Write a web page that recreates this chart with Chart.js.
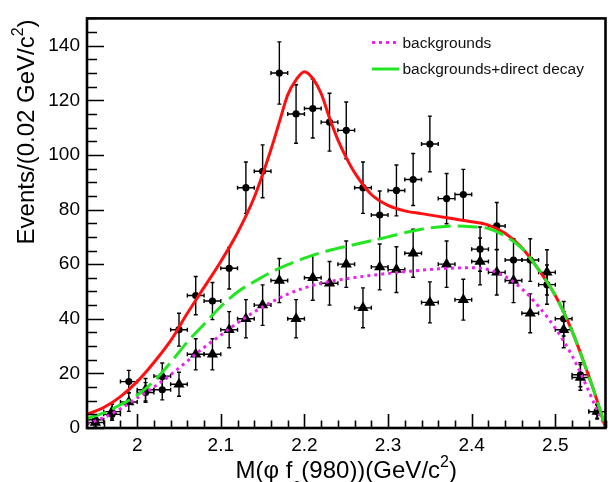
<!DOCTYPE html>
<html><head><meta charset="utf-8">
<script src="https://cdn.jsdelivr.net/npm/chart.js@4.4.1/dist/chart.umd.min.js"></script>
<style>html,body{margin:0;padding:0;background:#fff;}canvas{display:block;}</style>
</head><body>
<canvas id="c" width="612" height="482"></canvas>
<script>
// ---------- data ----------
const binCenters = [1.95,1.97,1.99,2.01,2.03,2.05,2.07,2.09,2.11,2.13,2.15,2.17,2.19,2.21,2.23,2.25,2.27,2.29,2.31,2.33,2.35,2.37,2.39,2.41,2.43,2.45,2.47,2.49,2.51,2.53,2.55];
const dataCounts = [3,5,17,13,14,36,48.5,46.5,58.5,88,94,130,115,117,112,109,88,78,87,91,104,84,85.5,65.5,74,61.5,61.5,52.5,40,19.5,6];
const dataErrors = [1.7,2.2,4.1,3.6,3.7,6,7,6.8,7.6,9.4,9.7,11.4,10.7,10.8,10.6,10.4,9.4,8.8,9.3,9.5,10.2,9.2,9.2,8.1,8.6,7.8,7.8,7.2,6.3,4.4,2.4];
const bkgCounts = [2,6,9.5,14,19,16,27,27,36,40,45,54,40,55,53,60,44,59,58,64,46,60,47,61,57,54,42,57,36,18.5,6];
const bkgErrors = [1.6,2.7,3.4,4.1,4.8,4.4,5.7,5.7,6.6,7,7.4,8.1,7,8.2,8,8.5,7.3,8.4,8.4,8.8,7.5,8.5,7.5,8.6,8.3,8.1,7.1,8.3,6.6,4.7,2.7];
const binHalfWidth = 0.01;

const fitX = [1.94,1.96,1.98,2.00,2.02,2.04,2.06,2.08,2.10,2.12,2.14,2.16,2.17,2.18,2.19,2.20,2.21,2.22,2.23,2.24,2.25,2.26,2.28,2.30,2.32,2.34,2.36,2.38,2.40,2.42,2.44,2.46,2.48,2.50,2.52,2.54,2.55,2.56];
const fitTotal = [5,7.5,11.5,17,24,32,42,51.5,61,71.5,84.5,102,112,122,127.5,130.5,128,122.5,113.5,105.5,99,93.5,85.5,81.5,79.5,78.5,77.5,76.5,75.5,74.3,71.3,66,58,48.5,35.5,19,10,0];

const curveX = [1.94,1.96,1.98,2.00,2.02,2.04,2.06,2.08,2.10,2.12,2.14,2.16,2.18,2.20,2.22,2.24,2.26,2.28,2.30,2.32,2.34,2.36,2.38,2.40,2.42,2.44,2.46,2.48,2.50,2.52,2.54,2.55,2.56];
const curveBkgDirect = [3.5,5.5,8.5,12,17.2,24,31.5,38,44.5,49.8,53.6,57,59.8,62.2,64.2,65.8,67.2,68.6,70,71.5,72.8,73.6,74,73.7,73,70.3,65.8,58,48.5,35.5,19,10,0];
const curveBkg = [1.5,3.8,7,11,15,19.5,24.5,29.5,34,38.5,42.5,46,49,51.3,53,54.2,55.1,55.9,56.6,57.2,57.8,58.3,58.6,58.7,58,55.5,51,44.5,36.5,26.5,13.5,6.5,0.5];

const xTickValues = [2.0,2.1,2.2,2.3,2.4,2.5];
const xTickLabels = ['2','2.1','2.2','2.3','2.4','2.5'];
const yTickValues = [0,20,40,60,80,100,120,140];
const yTickLabels = ['0','20','40','60','80','100','120','140'];
const legendLabels = ['backgrounds','backgrounds+direct decay'];

// ---------- styling ----------
const FONT = '"Liberation Sans", Arial, Helvetica, sans-serif';
const RED = '#ff1010', GREEN = '#22e622', MAGENTA = '#f020f0';

const pts = (xs, ys) => xs.map((x, i) => ({x, y: ys[i]}));

function drawRich(ctx, parts, x, y, align) {
  let w = 0;
  parts.forEach(p => { ctx.font = p.size + 'px ' + FONT; p.w = ctx.measureText(p.t).width; w += p.w; });
  let cx = align === 'center' ? x - w / 2 : (align === 'right' ? x - w : x);
  ctx.textAlign = 'left';
  ctx.textBaseline = 'alphabetic';
  parts.forEach(p => { ctx.font = p.size + 'px ' + FONT; ctx.fillText(p.t, cx, y + (p.dy || 0)); cx += p.w; });
}

const rootStyle = {
  id: 'rootStyle',
  beforeDatasetsDraw(chart) {
    const ctx = chart.ctx, xs = chart.scales.x, ys = chart.scales.y, a = chart.chartArea;
    ctx.save();
    ctx.beginPath(); ctx.rect(a.left, a.top, a.right - a.left, a.bottom - a.top); ctx.clip();
    ctx.strokeStyle = '#000'; ctx.lineWidth = 1.4;
    chart.data.datasets.forEach(ds => {
      if (!ds.errorBars) return;
      ds.data.forEach((p, i) => {
        const e = ds.errorBars[i];
        const px = xs.getPixelForValue(p.x), py = ys.getPixelForValue(p.y);
        const y1 = ys.getPixelForValue(p.y + e), y2 = ys.getPixelForValue(p.y - e);
        const x1 = xs.getPixelForValue(p.x - binHalfWidth), x2 = xs.getPixelForValue(p.x + binHalfWidth);
        ctx.beginPath();
        ctx.moveTo(px, y1); ctx.lineTo(px, y2);
        ctx.moveTo(px - 2, y1); ctx.lineTo(px + 2, y1);
        ctx.moveTo(px - 2, y2); ctx.lineTo(px + 2, y2);
        ctx.moveTo(x1, py); ctx.lineTo(x2, py);
        ctx.moveTo(x1, py - 2); ctx.lineTo(x1, py + 2);
        ctx.moveTo(x2, py - 2); ctx.lineTo(x2, py + 2);
        ctx.stroke();
      });
    });
    ctx.restore();
  },
  afterDraw(chart) {
    const ctx = chart.ctx, xs = chart.scales.x, ys = chart.scales.y, a = chart.chartArea;
    ctx.save();
    ctx.strokeStyle = '#000';
    // ticks (inside the frame)
    ctx.lineWidth = 1.6;
    ctx.beginPath();
    for (let v = 0; v <= 150.001; v += 5) {
      const py = Math.round(ys.getPixelForValue(v)) + 0.5;
      const major = Math.abs(v % 20) < 1e-6;
      ctx.moveTo(a.left, py); ctx.lineTo(a.left + (major ? 17 : 10), py);
    }
    for (let k = 0; k <= 31; k++) {
      const v = 1.94 + k * 0.02;
      const px = Math.round(xs.getPixelForValue(v)) + 0.5;
      const major = xTickValues.some(t => Math.abs(t - v) < 1e-6);
      ctx.moveTo(px, a.bottom); ctx.lineTo(px, a.bottom - (major ? 14 : 7.5));
    }
    ctx.stroke();
    // frame
    ctx.lineWidth = 2.6;
    ctx.strokeRect(a.left, a.top, a.right - a.left, a.bottom - a.top);

    // axis titles
    ctx.fillStyle = '#000';
    drawRich(ctx, [
      {t: 'M(\u03C6 f', size: 24},
      {t: '0', size: 16, dy: 15},
      {t: '(980))(GeV/c', size: 24},
      {t: '2', size: 16, dy: -11},
      {t: ')', size: 24}
    ], (a.left + a.right) / 2, 478, 'center');

    ctx.save();
    ctx.translate(33.5, a.top + 1);
    ctx.rotate(-Math.PI / 2);
    drawRich(ctx, [
      {t: 'Events/(0.02 GeV/c', size: 24},
      {t: '2', size: 16, dy: -11},
      {t: ')', size: 24}
    ], 0, 0, 'right');
    ctx.restore();

    // legend
    ctx.lineWidth = 3;
    ctx.strokeStyle = MAGENTA;
    ctx.setLineDash([3, 4]);
    ctx.beginPath(); ctx.moveTo(372, 42.5); ctx.lineTo(399, 42.5); ctx.stroke();
    ctx.setLineDash([]);
    ctx.strokeStyle = GREEN;
    ctx.beginPath(); ctx.moveTo(372, 69); ctx.lineTo(399, 69); ctx.stroke();
    ctx.fillStyle = '#111';
    ctx.font = '15.5px ' + FONT;
    ctx.textAlign = 'left'; ctx.textBaseline = 'alphabetic';
    ctx.fillText(legendLabels[0], 402.5, 47.5);
    ctx.fillText(legendLabels[1], 402.5, 74);
    ctx.restore();
  }
};

new Chart(document.getElementById('c'), {
  type: 'scatter',
  data: {
    datasets: [
      {label: 'backgrounds+direct decay', type: 'line', data: pts(curveX, curveBkgDirect), borderColor: GREEN, borderWidth: 3,
       borderDash: [20, 7], pointRadius: 0, cubicInterpolationMode: 'monotone', fill: false},
      {label: 'total', type: 'line', data: pts(fitX, fitTotal), borderColor: RED, borderWidth: 3,
       pointRadius: 0, cubicInterpolationMode: 'monotone', fill: false},
      {label: 'backgrounds', type: 'line', data: pts(curveX, curveBkg), borderColor: MAGENTA, borderWidth: 3,
       borderDash: [3, 4], pointRadius: 0, cubicInterpolationMode: 'monotone', fill: false},
      {label: 'data', data: pts(binCenters, dataCounts), errorBars: dataErrors, pointStyle: 'circle',
       pointRadius: 3.6, backgroundColor: '#000', borderColor: '#000', borderWidth: 0},
      {label: 'bkg data', data: pts(binCenters, bkgCounts), errorBars: bkgErrors, pointStyle: 'triangle',
       pointRadius: 6.5, backgroundColor: '#000', borderColor: '#000', borderWidth: 0}
    ]
  },
  options: {
    responsive: false,
    animation: false,
    events: [],
    layout: {padding: {left: 0, right: 4, top: 12, bottom: 0}},
    plugins: {legend: {display: false}, tooltip: {enabled: false}},
    scales: {
      x: {
        type: 'linear', position: 'bottom', min: 1.94, max: 2.56,
        grid: {display: false, drawTicks: false}, border: {display: false},
        afterBuildTicks: s => { s.ticks = xTickValues.map(v => ({value: v})); },
        afterFit: s => { s.height = 54; },
        ticks: {
          autoSkip: false, maxRotation: 0, padding: 6, color: '#000',
          font: {family: FONT, size: 19},
          callback: (v) => { const i = xTickValues.findIndex(t => Math.abs(t - v) < 1e-6); return i >= 0 ? xTickLabels[i] : ''; }
        }
      },
      y: {
        type: 'linear', position: 'left', min: 0, max: 150,
        grid: {display: false, drawTicks: false}, border: {display: false},
        afterBuildTicks: s => { s.ticks = yTickValues.map(v => ({value: v})); },
        afterFit: s => { s.width = 87; },
        ticks: {
          autoSkip: false, padding: 7, color: '#000',
          font: {family: FONT, size: 19},
          callback: (v) => { const i = yTickValues.indexOf(v); return i >= 0 ? yTickLabels[i] : ''; }
        }
      }
    }
  },
  plugins: [rootStyle]
});
</script>
</body></html>
